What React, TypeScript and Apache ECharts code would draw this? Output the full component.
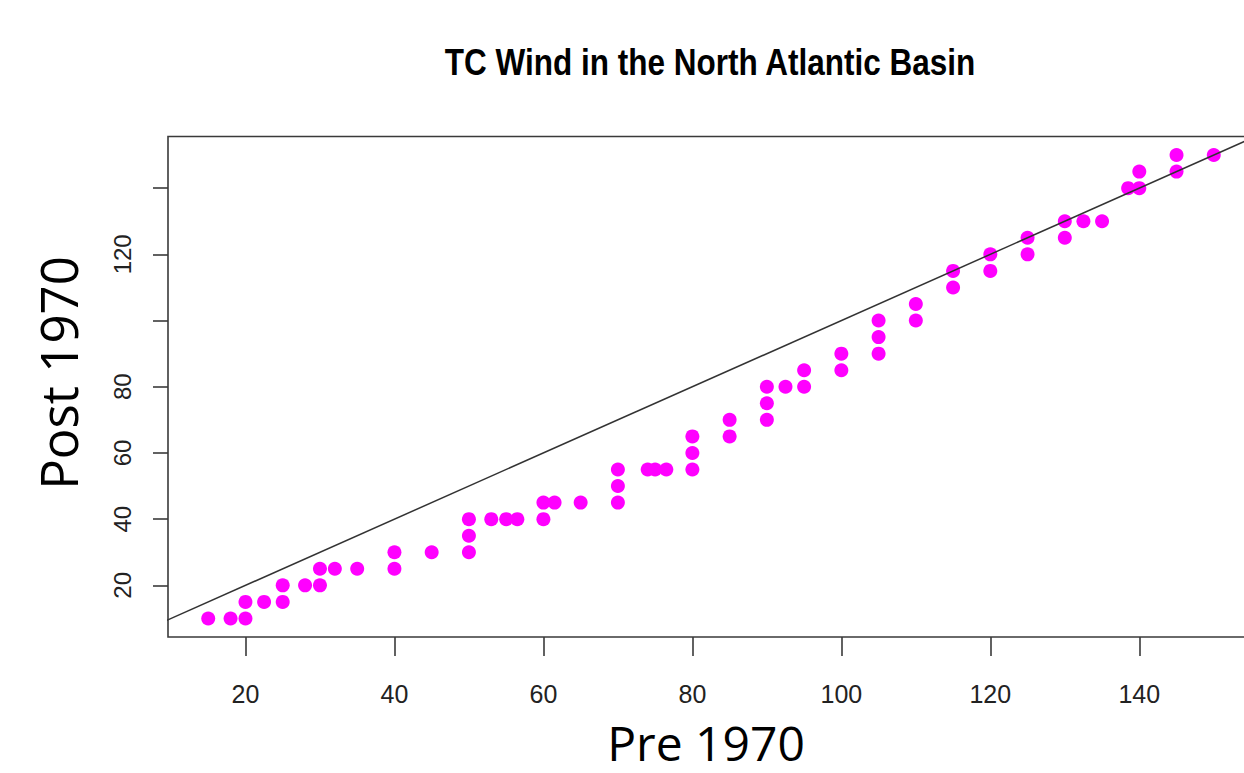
import React, { useEffect, useRef } from "react";
import * as echarts from "echarts";

const chartTitle = "TC Wind in the North Atlantic Basin";
const xTitle = "Pre 1970";
const yTitle = "Post 1970";

const preWind = [
  15, 18, 20, 20, 22.5, 25, 25, 28, 30, 30, 32, 35, 40, 40, 45, 50, 50, 50, 53, 55,
  56.5, 60, 60, 61.5, 65, 70, 70, 70, 74, 75, 76.5, 80, 80, 80, 85, 85, 90, 90, 90, 92.5,
  95, 95, 100, 100, 105, 105, 105, 110, 110, 115, 115, 120, 120, 125, 125, 130, 130, 132.5, 135, 138.5,
  140, 140, 145, 145, 150,
];
const postWind = [
  10, 10, 10, 15, 15, 15, 20, 20, 20, 25, 25, 25, 25, 30, 30, 30, 35, 40, 40, 40,
  40, 40, 45, 45, 45, 45, 50, 55, 55, 55, 55, 55, 60, 65, 65, 70, 70, 75, 80, 80,
  80, 85, 85, 90, 90, 95, 100, 100, 105, 110, 115, 115, 120, 120, 125, 125, 130, 130, 130, 140,
  140, 145, 145, 150, 150,
];

const xTicks = [20, 40, 60, 80, 100, 120, 140];
const xLabels = [20, 40, 60, 80, 100, 120, 140];
const yTicks = [20, 40, 60, 80, 100, 120, 140];
const yLabels = [20, 40, 60, 80, 120];

// y = x reference line
const refLine = [
  [0, 0],
  [200, 200],
];

export default function App() {
  const ref = useRef<HTMLDivElement>(null);
  useEffect(() => {
    if (!ref.current) return;
    const chart = echarts.init(ref.current, undefined, { renderer: "svg" });
    const points = preWind.map((x, i) => [x, postWind[i]]);
    const axisColor = "#3a3a3a";
    chart.setOption({
      animation: false,
      backgroundColor: "#ffffff",
      grid: {
        left: 168,
        top: 136.5,
        bottom: 136,
        right: 0,
        show: true,
        borderColor: axisColor,
        borderWidth: 1.6,
        backgroundColor: "transparent",
        containLabel: false,
      },
      xAxis: {
        type: "value",
        min: 9.6,
        max: 155.4,
        axisLine: { show: false },
        splitLine: { show: false },
        axisTick: {
          show: true,
          customValues: xTicks,
          length: 19,
          lineStyle: { color: axisColor, width: 1.6 },
        },
        axisLabel: {
          customValues: xLabels,
          margin: 44,
          fontFamily: "Liberation Sans",
          fontSize: 25,
          color: "#222",
        },
      },
      yAxis: {
        type: "value",
        min: 4.4,
        max: 155.6,
        axisLine: { show: false },
        splitLine: { show: false },
        axisTick: {
          show: true,
          customValues: yTicks,
          length: 15,
          lineStyle: { color: axisColor, width: 1.6 },
        },
        axisLabel: {
          customValues: yLabels,
          rotate: 90,
          margin: 34,
          fontFamily: "Liberation Sans",
          fontSize: 24,
          color: "#222",
        },
      },
      graphic: [
        {
          type: "text",
          x: 710,
          y: 62,
          scaleY: 1.18,
          style: {
            text: chartTitle,
            fontFamily: "Liberation Sans",
            fontWeight: "bold",
            fontSize: 31.5,
            fill: "#000",
            textAlign: "center",
            textVerticalAlign: "middle",
          },
        },
        {
          type: "text",
          x: 706,
          y: 742,
          style: {
            text: xTitle,
            fontFamily: "Open Sans",
            fontSize: 48,
            fill: "#000",
            textAlign: "center",
            textVerticalAlign: "middle",
          },
        },
        {
          type: "text",
          x: 58,
          y: 373,
          rotation: Math.PI / 2,
          style: {
            text: yTitle,
            fontFamily: "Open Sans",
            fontSize: 51,
            fill: "#000",
            textAlign: "center",
            textVerticalAlign: "middle",
          },
        },
      ],
      series: [
        {
          type: "scatter",
          data: points,
          symbol: "circle",
          symbolSize: 14,
          itemStyle: { color: "#ff00ff", opacity: 1 },
          z: 2,
        },
        {
          type: "line",
          data: refLine,
          symbol: "none",
          clip: true,
          lineStyle: { color: "#333", width: 1.5 },
          z: 3,
        },
      ],
    });
    return () => chart.dispose();
  }, []);
  return (
    <div
      style={{
        position: "absolute",
        left: 0,
        top: 0,
        width: 1244,
        height: 773,
        overflow: "hidden",
      }}
    >
      <div ref={ref} style={{ width: 1254, height: 773 }} />
    </div>
  );
}
